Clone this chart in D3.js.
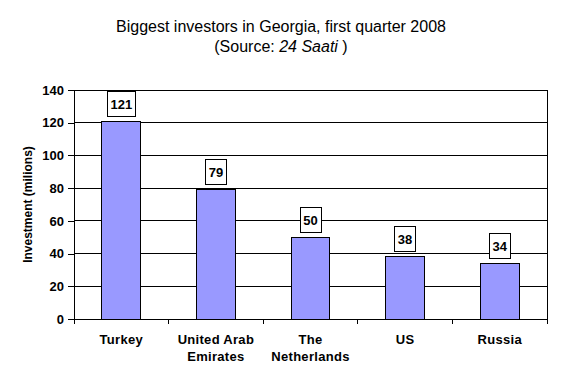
<!DOCTYPE html>
<html><head><meta charset="utf-8">
<script src="https://cdn.jsdelivr.net/npm/d3@7"></script>
<style>body{margin:0;background:#fff}svg{display:block}</style>
</head><body>
<script>
const categories = [["Turkey"], ["United Arab", "Emirates"], ["The", "Netherlands"], ["US"], ["Russia"]];
const values = [121, 79, 50, 38, 34];
const yTicks = [0, 20, 40, 60, 80, 100, 120, 140];

const W = 562, H = 383;
const m = {left: 74, right: 15, top: 90, bottom: 64};
const svg = d3.select("body").append("svg").attr("width", W).attr("height", H);
const font = "Arial, 'Liberation Sans', sans-serif";

const x = d3.scaleBand().domain(d3.range(categories.length)).range([m.left, W - m.right]).padding(0);
const y = d3.scaleLinear().domain([0, 140]).range([H - m.bottom, m.top]);

// title
svg.append("text").attr("x", 281).attr("y", 32).attr("text-anchor", "middle")
  .style("font-family", font).style("font-size", "16px").text("Biggest investors in Georgia, first quarter 2008");
const t2 = svg.append("text").attr("x", 281).attr("y", 52).attr("text-anchor", "middle")
  .style("font-family", font).style("font-size", "16px");
t2.append("tspan").text("(Source: ");
t2.append("tspan").style("font-style", "italic").text("24 Saati");
t2.append("tspan").text(" )");

// gridlines
svg.append("g").selectAll("line").data(yTicks.filter(d => d > 0)).join("line")
  .attr("x1", m.left).attr("x2", W - m.right).attr("y1", d => y(d)).attr("y2", d => y(d))
  .attr("stroke", "#000").attr("stroke-width", 1).attr("shape-rendering", "crispEdges");
// right border
svg.append("line").attr("x1", W - m.right).attr("x2", W - m.right).attr("y1", y(140)).attr("y2", y(0))
  .attr("stroke", "#000").attr("shape-rendering", "crispEdges");

// y axis
const yAxis = svg.append("g").attr("transform", `translate(${m.left},0)`)
  .call(d3.axisLeft(y).tickValues(yTicks).tickSize(6).tickPadding(4));
yAxis.select(".domain").attr("stroke", "#000");
yAxis.selectAll("line").attr("stroke", "#000");
yAxis.selectAll("text").style("font-family", font).style("font-size", "13px").style("font-weight", "bold").attr("fill", "#000");
yAxis.attr("shape-rendering", "crispEdges");

// y axis title
svg.append("text").attr("transform", `translate(32,${(y(0) + y(140)) / 2}) rotate(-90)`)
  .attr("text-anchor", "middle").style("font-family", font).style("font-size", "12px").style("font-weight", "bold")
  .text("Investment (milions)");

// x axis
const xAxis = svg.append("g").attr("transform", `translate(0,${y(0)})`).attr("shape-rendering", "crispEdges");
xAxis.append("line").attr("x1", m.left).attr("x2", W - m.right).attr("stroke", "#000");
const edges = d3.range(categories.length + 1).map(i => i < categories.length ? x(i) : x(i - 1) + x.bandwidth());
xAxis.selectAll("line.tk").data(edges).join("line").attr("class", "tk")
  .attr("x1", d => d).attr("x2", d => d).attr("y1", 0).attr("y2", 5).attr("stroke", "#000");
const lbl = svg.append("g").selectAll("text").data(categories).join("text")
  .attr("text-anchor", "middle").style("font-family", font).style("font-size", "13px").style("font-weight", "bold")
  .style("letter-spacing", "0.3px")
  .attr("transform", (d, i) => `translate(${x(i) + x.bandwidth() / 2},${y(0) + 25})`);
lbl.selectAll("tspan").data(d => d).join("tspan").attr("x", 0).attr("dy", (d, i) => i === 0 ? 0 : 17).text(d => d);

// bars
const bw = x.bandwidth() * 0.41;
svg.append("g").selectAll("rect").data(values).join("rect")
  .attr("x", (d, i) => x(i) + x.bandwidth() / 2 - bw / 2).attr("width", bw)
  .attr("y", d => y(d)).attr("height", d => y(0) - y(d))
  .attr("fill", "#9999FF").attr("stroke", "#000").attr("stroke-width", 1).attr("shape-rendering", "crispEdges");

// value labels
const vl = svg.append("g").selectAll("g").data(values).join("g")
  .attr("transform", (d, i) => `translate(${x(i) + x.bandwidth() / 2},${y(d) - 5})`);
vl.append("rect").attr("x", d => -(String(d).length * 7.5 + 6) / 2).attr("width", d => String(d).length * 7.5 + 6)
  .attr("y", -25).attr("height", 25).attr("fill", "#fff").attr("stroke", "#000").attr("shape-rendering", "crispEdges");
vl.append("text").attr("text-anchor", "middle").attr("y", -7.5).style("font-family", font)
  .style("font-size", "13px").style("font-weight", "bold").text(d => d);
</script>
</body></html>
